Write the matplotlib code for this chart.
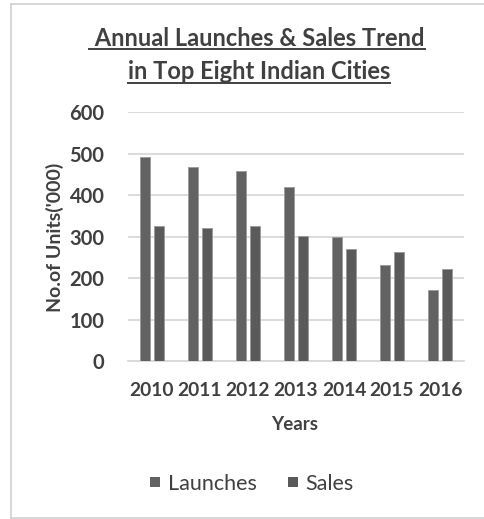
import matplotlib
matplotlib.use("Agg")
import matplotlib.pyplot as plt
import numpy as np
from matplotlib.lines import Line2D

years = ["2010", "2011", "2012", "2013", "2014", "2015", "2016"]
launches = [491, 467, 459, 420, 300, 231, 171]
sales = [325, 322, 325, 301, 269, 262, 222]
yticks = [0, 100, 200, 300, 400, 500, 600]
series_names = ["Launches", "Sales"]
series_colors = ["#626262", "#5a5a5a"]

TXT = "#404040"
FONT = "Lato"
plt.rcParams["font.family"] = [FONT, "DejaVu Sans"]

fig = plt.figure(figsize=(4.85, 5.19), dpi=100)
W, H = 485, 519

# outer frame (left, top, bottom edges)
fc = "#d0d0d0"
fig.lines.append(Line2D([11 / W, 11 / W], [1 - 4 / H, 1 - 518 / H], transform=fig.transFigure, color=fc, linewidth=1.2))
fig.lines.append(Line2D([11 / W, 1], [1 - 4 / H, 1 - 4 / H], transform=fig.transFigure, color=fc, linewidth=1.2))
fig.lines.append(Line2D([11 / W, 1], [1 - 518 / H, 1 - 518 / H], transform=fig.transFigure, color=fc, linewidth=1.2))

ax = fig.add_axes([128 / W, 158 / H, 336 / W, (406.7 - 158) / H])
x = np.arange(len(years))
off = 0.145
bw = 0.2
ax.bar(x - off, launches, bw, color=series_colors[0], edgecolor="#9a9a9a", linewidth=0.6, zorder=3)
ax.bar(x + off, sales, bw, color=series_colors[1], edgecolor="#9a9a9a", linewidth=0.6, zorder=3)

ax.set_xlim(-0.5, len(years) - 0.5)
ax.set_ylim(0, 600)
ax.set_yticks(yticks)
ax.set_yticklabels([str(v) for v in yticks])
ax.set_xticks(x)
ax.set_xticklabels(years)
ax.grid(axis="y", color="#d9d9d9", linewidth=1.3, zorder=0)
ax.set_axisbelow(True)
for s in ["top", "right", "left"]:
    ax.spines[s].set_visible(False)
ax.spines["bottom"].set_color("#d9d9d9")
ax.spines["bottom"].set_linewidth(1.3)
ax.tick_params(axis="both", length=0, labelcolor=TXT)
ax.tick_params(axis="y", pad=17, labelsize=14.5)
ax.tick_params(axis="x", pad=15, labelsize=13.8)
for lab in ax.get_xticklabels() + ax.get_yticklabels():
    lab.set_fontweight("bold")

fig.text(55 / W, 1 - 237 / H, "No.of Units('000)", rotation=90, ha="center", va="center",
         fontsize=14, fontweight="bold", color=TXT)
fig.text(295 / W, 1 - 425 / H, "Years", ha="center", va="center",
         fontsize=13.5, fontweight="bold", color=TXT)

handles = [Line2D([], [], marker="s", linestyle="", markersize=7.5, color=c, markeredgewidth=0)
           for c in series_colors]
leg = fig.legend(handles, series_names, loc="center", bbox_to_anchor=(252 / W, 1 - 484 / H), ncol=2,
                 frameon=False, fontsize=15.5, handlelength=0.5, handletextpad=0.35,
                 columnspacing=1.4, labelcolor=TXT)

# title with underline
t1 = fig.text(257 / W, 1 - 38 / H, " Annual Launches & Sales Trend", ha="center", va="center",
              fontsize=17, fontweight="bold", color=TXT)
t2 = fig.text(259 / W, 1 - 72 / H, "in Top Eight Indian Cities", ha="center", va="center",
              fontsize=17, fontweight="bold", color=TXT)
fig.canvas.draw()
r = fig.canvas.get_renderer()
for t, uy in [(t1, 48.5), (t2, 82.5)]:
    bb = t.get_window_extent(r)
    fig.lines.append(Line2D([bb.x0 / W, bb.x1 / W], [1 - uy / H, 1 - uy / H],
                            transform=fig.transFigure, color=TXT, linewidth=1.4))

fig.savefig("out.png", dpi=100)
